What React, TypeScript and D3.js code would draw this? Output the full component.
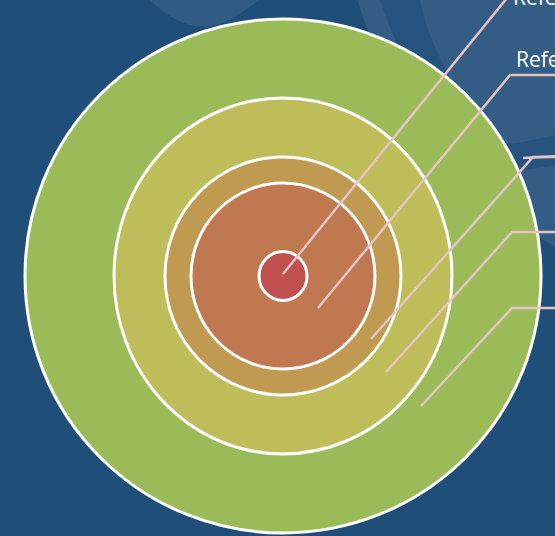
import * as d3 from "d3";
import { useEffect, useRef } from "react";

// rings from outermost to innermost (radius units, x and y)
const ringNames = ["Level 5", "Level 4", "Level 3", "Level 2", "Level 1"];
const ringRx = [258, 169, 118, 92, 24];
const ringRy = [257, 178, 119, 93, 24.5];
const ringColors = ["#9bbb59", "#bebd5a", "#c09a50", "#bf784f", "#c0504d"];

// callout labels (cut off at the right edge, as in the source)
const labels = ["Reference", "Reference", "Reference", "Reference", "Reference"];
// leader start offsets from centre, bend points and label rows
const leaderStart = [
  [0, -2],
  [35, 32],
  [88, 63],
  [103, 96],
  [138, 130],
];
const leaderBend = [
  [224, -278],
  [227, -201],
  [250, -119],
  [229, -44],
  [229, 32],
];

function App() {
  const ref = useRef(null);

  useEffect(() => {
    const width = 555,
      height = 536;
    const cx = 283,
      cy = 276;

    const svg = d3.select(ref.current);
    svg.selectAll("*").remove();

    const x = d3.scaleLinear().domain([0, 1]).range([cx, cx + 1]);
    const y = d3.scaleLinear().domain([0, 1]).range([cy, cy + 1]);

    svg
      .append("rect")
      .attr("width", width)
      .attr("height", height)
      .attr("fill", "#1f4e79");

    // soft background swirls
    const bg = svg.append("g");
    bg.append("circle")
      .attr("cx", 760)
      .attr("cy", -120)
      .attr("r", 420)
      .attr("fill", "#ffffff")
      .attr("opacity", 0.09);
    bg.append("path")
      .attr("d", "M150,0 Q190,40 230,20 L260,0 Z")
      .attr("fill", "#ffffff")
      .attr("opacity", 0.08);
    bg.append("path")
      .attr("d", "M380,0 C400,60 430,110 470,150 L500,150 C460,100 430,50 420,0 Z")
      .attr("fill", "#1f4e79")
      .attr("opacity", 0.6);
    bg.append("path")
      .attr("d", "M470,140 C500,150 530,140 555,135 L555,165 C530,170 500,175 470,160 Z")
      .attr("fill", "#1f4e79")
      .attr("opacity", 0.6);

    svg
      .append("g")
      .selectAll("ellipse")
      .data(ringNames)
      .join("ellipse")
      .attr("cx", x(0))
      .attr("cy", y(0))
      .attr("rx", (d, i) => x(ringRx[i]) - x(0))
      .attr("ry", (d, i) => y(ringRy[i]) - y(0))
      .attr("fill", (d, i) => ringColors[i])
      .attr("stroke", "#ffffff")
      .attr("stroke-width", 3);

    const lines = svg.append("g");
    labels.forEach((lab, i) => {
      const s = leaderStart[i];
      const b = leaderBend[i];
      const pts: [number, number][] = [
        [x(s[0]), y(s[1])],
        [x(b[0]), y(b[1])],
      ];
      if (i > 0) pts.push([width + 5, y(b[1])]);
      lines
        .append("path")
        .attr("d", d3.line()(pts))
        .attr("fill", "none")
        .attr("stroke", "#e6c4c4")
        .attr("stroke-width", 2.5);
      if (i === 2) {
        lines
          .append("line")
          .attr("x1", x(b[0]) - 10)
          .attr("x2", width + 5)
          .attr("y1", y(b[1]) + 1)
          .attr("y2", y(b[1]) - 1)
          .attr("stroke", "#e6c4c4")
          .attr("stroke-width", 2.5);
      }
      svg
        .append("text")
        .attr("x", i === 0 ? x(b[0]) + 6 : x(b[0]) + 6)
        .attr("y", i === 0 ? 5 : y(b[1]) - 8)
        .attr("fill", "#ffffff")
        .style("font-family", "'Open Sans', sans-serif")
        .style("font-size", "21px")
        .text(i < 2 ? lab : "");
    });
  }, []);

  return (
    <svg
      ref={ref}
      width={555}
      height={536}
      style={{ position: "absolute", left: 0, top: 0 }}
    />
  );
}

export default App;
